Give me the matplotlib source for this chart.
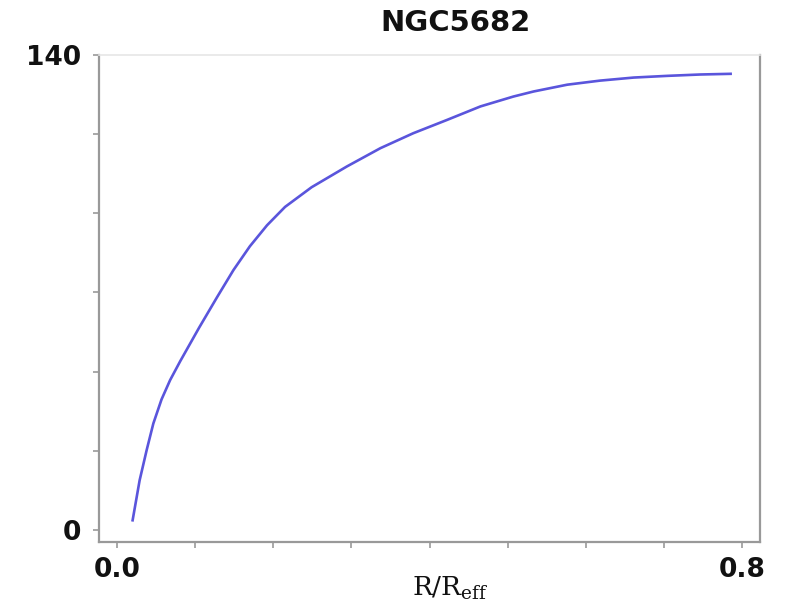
import numpy as np
import matplotlib
matplotlib.use("Agg")
import matplotlib.pyplot as plt


# Curve (R/R_eff, value)

r_over_reff = [0.020, 0.029, 0.038, 0.0465, 0.057, 0.068, 0.081, 0.093,
               0.105, 0.128, 0.149, 0.170, 0.192, 0.215, 0.249, 0.294,
               0.337, 0.379, 0.422, 0.465, 0.507, 0.533, 0.576, 0.618,
               0.661, 0.704, 0.746, 0.785]
profile = [2.9, 14.7, 23.6, 31.4, 38.5, 44.2, 49.8, 54.7,
           59.6, 68.6, 76.6, 83.6, 89.8, 95.2, 101.0, 107.1,
           112.5, 116.9, 120.8, 124.8, 127.7, 129.2, 131.2, 132.4,
           133.3, 133.8, 134.2, 134.4]

x_ticks = [0.0, 0.1, 0.2, 0.3, 0.4, 0.5, 0.6, 0.7, 0.8]
x_tick_labels = ["0.0", "", "", "", "", "", "", "", "0.8"]
y_ticks = list(np.linspace(0, 140, 7))
y_tick_labels = ["0", "", "", "", "", "", "140"]

title = "NGC5682"

plt.rcParams["mathtext.fontset"] = "dejavuserif"

fig = plt.figure(figsize=(7.92, 6.09), dpi=100)
ax = fig.add_axes([0.125, 0.110, 0.835, 0.800])

ax.plot(r_over_reff, profile, color="#5a55dc", linewidth=1.9,
        solid_joinstyle="round")

ax.set_xlim(-0.023, 0.823)
ax.set_ylim(-3.5, 140)

ax.set_xticks(x_ticks)
ax.set_xticklabels(x_tick_labels)
ax.set_yticks(y_ticks)
ax.set_yticklabels(y_tick_labels)

for label in ax.get_xticklabels() + ax.get_yticklabels():
    label.set_fontweight("bold")
    label.set_fontsize(19)

ax.tick_params(axis="both", direction="out", length=4, width=1.2,
               color="#999999", labelcolor="#111111")
ax.tick_params(axis="x", pad=7)
ax.tick_params(axis="y", pad=9)

for spine in ax.spines.values():
    spine.set_color("#999999")
    spine.set_linewidth(1.6)
ax.spines["top"].set_color("#e6e6e6")
ax.spines["top"].set_linewidth(1.2)

ax.set_title(title, fontsize=21, fontweight="bold", x=0.539, pad=17,
             color="#111111")
ax.set_xlabel(r"$\mathrm{R/R_{eff}}$", fontsize=19, color="#111111")
ax.xaxis.set_label_coords(0.531, -0.067)

fig.savefig("out.png", dpi=100)
